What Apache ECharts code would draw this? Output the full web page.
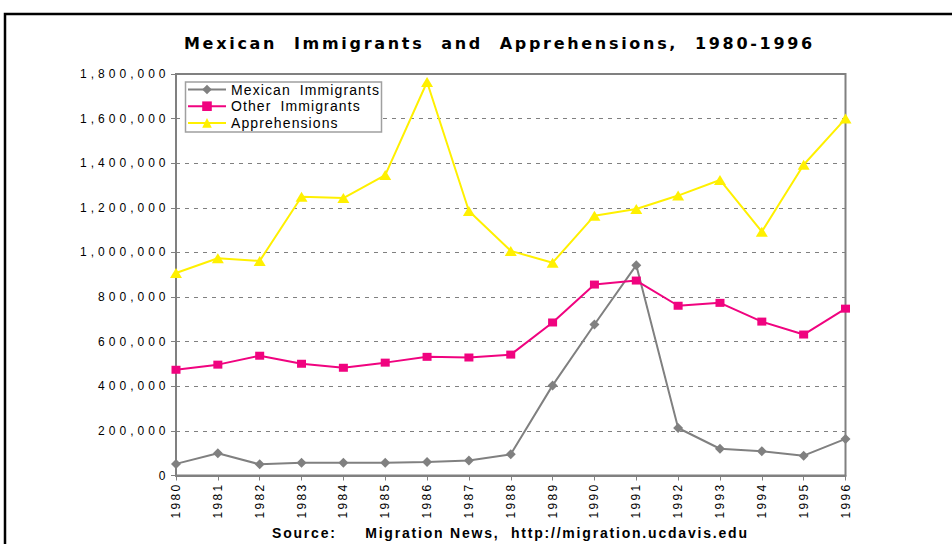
<!DOCTYPE html>
<html>
<head>
<meta charset="utf-8">
<script src="https://cdn.jsdelivr.net/npm/echarts@6/dist/echarts.min.js"></script>
<style>
html, body { margin: 0; padding: 0; background: #ffffff; }
#main { width: 952px; height: 544px; }
#main text { white-space: pre; }
/* y-axis labels */
#main text[style*="Arial, serif"] { letter-spacing: 4px; }
/* x-axis labels */
#main text[style*="cursive"] { letter-spacing: 2.3px; }
/* legend */
#main text[style*="Helvetica"] { letter-spacing: 1.1px; word-spacing: 4px; }
/* title */
#main text[style*="DejaVu"] { letter-spacing: 2.7px; word-spacing: 8.5px; }
/* source */
#main text[style*="monospace"] { letter-spacing: 1.8px; }
</style>
</head>
<body>
<div id="main"></div>
<script>
// ---- data ----
const years = ['1980','1981','1982','1983','1984','1985','1986','1987','1988','1989','1990','1991','1992','1993','1994','1995','1996'];
const mexicanImmigrants = [52000, 100000, 50000, 57000, 57000, 57000, 61000, 67000, 95000, 404000, 677000, 943000, 213000, 120000, 109000, 89000, 164000];
const otherImmigrants = [474000, 497000, 537000, 501000, 483000, 506000, 532000, 529000, 542000, 686000, 856000, 874000, 761000, 774000, 690000, 632000, 748000];
const apprehensions = [908000, 974000, 962000, 1250000, 1244000, 1347000, 1764000, 1186000, 1007000, 954000, 1165000, 1195000, 1255000, 1325000, 1093000, 1393000, 1600000];
const seriesNames = ['Mexican Immigrants', 'Other Immigrants', 'Apprehensions'];
const yMin = 0, yMax = 1800000, yStep = 200000;
const titleText = 'Mexican Immigrants and Apprehensions, 1980-1996';
const sourceText = 'Source:     Migration News,  http://migration.ucdavis.edu';

const chart = echarts.init(document.getElementById('main'), null, { renderer: 'svg' });

const option = {
  animation: false,
  backgroundColor: '#ffffff',
  title: [
    {
      text: titleText,
      left: 184, top: 35.5, padding: 0,
      textStyle: { fontFamily: "DejaVu Sans, sans-serif", fontSize: 16, fontWeight: 'bold', color: '#000' }
    },
    {
      text: sourceText,
      left: 272, top: 526, padding: 0,
      textStyle: { fontFamily: "Arial, monospace", fontSize: 14, fontWeight: 'bold', color: '#000' }
    }
  ],
  legend: {
    data: seriesNames,
    orient: 'vertical',
    left: 187, top: 82.5,
    padding: 0,
    itemWidth: 38, itemHeight: 12, itemGap: 2.7, itemTextGap: 5,
    selectedMode: false,
    textStyle: { fontFamily: "Arial, Helvetica, sans-serif", fontSize: 14, color: '#000' }
  },
  grid: {
    left: 176, right: 106.5, top: 74, bottom: 68.5,
    containLabel: false,
    outerBoundsMode: 'none',
    show: true, borderColor: '#808080', borderWidth: 2, backgroundColor: 'transparent'
  },
  xAxis: {
    type: 'category',
    data: years,
    boundaryGap: false,
    axisLine: { lineStyle: { color: '#808080', width: 2 } },
    axisTick: { show: true, alignWithLabel: true, length: 5, lineStyle: { color: '#808080', width: 1 } },
    axisLabel: { rotate: 90, interval: 0, margin: 7, fontSize: 12, color: '#000', fontFamily: "Arial, cursive" },
    splitLine: { show: false }
  },
  yAxis: {
    type: 'value',
    min: yMin, max: yMax, interval: yStep,
    axisLine: { show: true, lineStyle: { color: '#808080', width: 2 } },
    axisTick: { show: true, length: 5, lineStyle: { color: '#808080', width: 1 } },
    axisLabel: {
      margin: 6.5, fontSize: 12, color: '#000', fontFamily: "Arial, serif",
      formatter: v => v.toLocaleString('en-US')
    },
    splitLine: { show: true, lineStyle: { color: '#808080', width: 1, type: [4, 5] } }
  },
  graphic: [
    {
      type: 'rect', z: 3,
      shape: { x: 185.5, y: 82, width: 196, height: 50 },
      style: { fill: '#ffffff', stroke: '#a0a0a0', lineWidth: 1.5 }
    },
    {
      type: 'rect', z: 10,
      shape: { x: 5, y: 14, width: 1200, height: 800 },
      style: { fill: 'none', stroke: '#000000', lineWidth: 2.5 }
    }
  ],
  series: [
    {
      name: seriesNames[0], type: 'line', data: mexicanImmigrants,
      symbol: 'diamond', symbolSize: [10, 10], showSymbol: true,
      lineStyle: { color: '#808080', width: 2 },
      itemStyle: { color: '#808080' },
      emphasis: { disabled: true }, z: 4
    },
    {
      name: seriesNames[1], type: 'line', data: otherImmigrants,
      symbol: 'rect', symbolSize: [9, 8], showSymbol: true,
      lineStyle: { color: '#f0037f', width: 2 },
      itemStyle: { color: '#f0037f' },
      emphasis: { disabled: true }, z: 5
    },
    {
      name: seriesNames[2], type: 'line', data: apprehensions,
      symbol: 'triangle', symbolSize: [12, 10], showSymbol: true,
      lineStyle: { color: '#fff000', width: 2 },
      itemStyle: { color: '#fff000' },
      emphasis: { disabled: true }, z: 3
    }
  ]
};
chart.setOption(option);
</script>
</body>
</html>
